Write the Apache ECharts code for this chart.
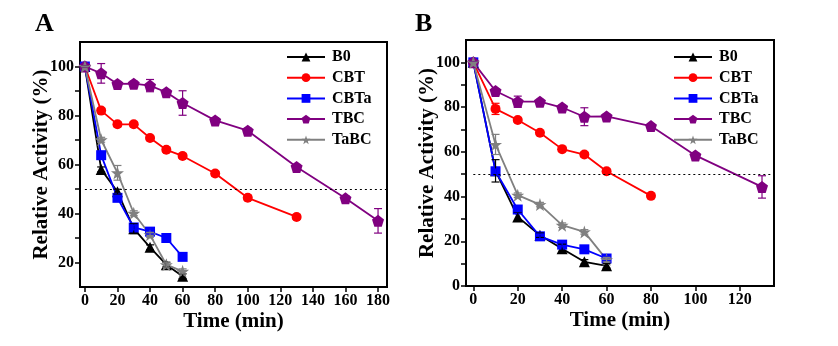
<!DOCTYPE html>
<html>
<head>
<meta charset="utf-8">
<script src="https://cdn.jsdelivr.net/npm/echarts@6/dist/echarts.min.js"></script>
<style>
  body { margin: 0; background: #fff; }
  #chart { width: 838px; height: 346px; }
</style>
</head>
<body>
<div id="chart"></div>
<script>
// ---- panel A ----
const timeA_short = [0, 10, 20, 30, 40, 50, 60];
const timeA_cbt = [0, 10, 20, 30, 40, 50, 60, 80, 100, 130];
const timeA_tbc = [0, 10, 20, 30, 40, 50, 60, 80, 100, 130, 160, 180];
const b0A = [100, 58, 48.9, 33.8, 26.2, 19.1, 14.4];
const b0A_err = [0, 1, 1, 2, 1, 1, 1];
const cbtA = [100, 82, 76.4, 76.4, 70.8, 66, 63.5, 56.3, 46.4, 38.6];
const cbtA_err = [0, 1, 1, 1, 1, 1, 1, 1, 1, 1];
const cbtaA = [100, 63.8, 46.4, 34.3, 32.6, 30, 22.3];
const cbtaA_err = [0, 1, 1, 1, 1, 1, 1];
const tbcA = [100, 97.2, 92.9, 93, 92.2, 89.5, 85.1, 78, 73.8, 59, 46.2, 37];
const tbcA_err = [0, 4, 1, 1, 2.5, 1, 5, 1, 1, 1, 1, 5];
const tabcA = [100, 70.1, 56.6, 40.1, 31.3, 19.1, 16.4];
const tabcA_err = [0, 1, 3, 1, 1, 1, 1];

// ---- panel B ----
const timeB_short = [0, 10, 20, 30, 40, 50, 60];
const timeB_cbt = [0, 10, 20, 30, 40, 50, 60, 80];
const timeB_tbc = [0, 10, 20, 30, 40, 50, 60, 80, 100, 130];
const b0B = [100, 51.5, 30.9, 22.7, 16.7, 10.8, 9];
const b0B_err = [0, 5, 2, 1, 2, 1, 1];
const cbtB = [100, 79.2, 74.2, 68.5, 61.2, 58.8, 51.3, 40.3];
const cbtB_err = [0, 2.5, 1, 1, 1, 1, 1, 1];
const cbtaB = [100, 51.3, 34.2, 22.2, 18.5, 16.4, 12.3];
const cbtaB_err = [0, 1, 1, 1, 1, 1, 1];
const tbcB = [100, 87.2, 82.4, 82.4, 79.8, 75.7, 75.8, 71.5, 58.4, 44.3];
const tbcB_err = [0, 1, 2.5, 1, 1, 4, 1, 1, 1, 5];
const tabcB = [100, 63.3, 40.6, 36.4, 27.2, 24.2, 11.8];
const tabcB_err = [0, 4.5, 1, 1, 1, 1, 1];

const ticksA_x = [0, 20, 40, 60, 80, 100, 120, 140, 160, 180];
const ticksB_x = [0, 20, 40, 60, 80, 100, 120];
const labelsA_y = [20, 40, 60, 80, 100];
const minorA_y = [20, 30, 40, 50, 60, 70, 80, 90, 100];
const labelsB_y = [0, 20, 40, 60, 80, 100];
const minorB_y = [0, 10, 20, 30, 40, 50, 60, 70, 80, 90, 100];
const names = ['B0', 'CBT', 'CBTa', 'TBC', 'TaBC'];

const FONT = '"Liberation Serif", "Times New Roman", serif';
const PENTA = 'path://M50,0 L97.6,34.5 L79.4,90.5 L20.6,90.5 L2.4,34.5 Z';
const STAR = 'path://M50,0 L61.8,35.1 L97.6,34.5 L69.1,56.7 L79.4,90.5 L50,70 L20.6,90.5 L30.9,56.7 L2.4,34.5 L38.2,35.1 Z';
const styles = {
  'B0': { color: '#000000', symbol: 'triangle', size: 11 },
  'CBT': { color: '#ff0000', symbol: 'circle', size: 10 },
  'CBTa': { color: '#0000ff', symbol: 'rect', size: 10 },
  'TBC': { color: '#800080', symbol: PENTA, size: 12 },
  'TaBC': { color: '#808080', symbol: STAR, size: 13 }
};

function zip(xs, ys) { return xs.map((x, i) => [x, ys[i]]); }

function lineSeries(name, xs, ys, gi) {
  const s = styles[name];
  return {
    name: name, type: 'line', xAxisIndex: gi, yAxisIndex: gi,
    data: zip(xs, ys),
    symbol: s.symbol, symbolSize: s.size,
    itemStyle: { color: s.color },
    lineStyle: { color: s.color, width: 1.8 },
    z: 3
  };
}

function errSeries(name, xs, ys, errs, gi) {
  const color = styles[name].color;
  return {
    type: 'custom', xAxisIndex: gi, yAxisIndex: gi, z: 4,
    data: xs.map((x, i) => [x, ys[i] - errs[i], ys[i] + errs[i]]),
    renderItem: function (params, api) {
      const lo = api.coord([api.value(0), api.value(1)]);
      const hi = api.coord([api.value(0), api.value(2)]);
      const w = 4;
      const st = { stroke: color, lineWidth: 1.2 };
      return {
        type: 'group', children: [
          { type: 'line', shape: { x1: lo[0], y1: lo[1], x2: hi[0], y2: hi[1] }, style: st },
          { type: 'line', shape: { x1: lo[0] - w, y1: lo[1], x2: lo[0] + w, y2: lo[1] }, style: st },
          { type: 'line', shape: { x1: hi[0] - w, y1: hi[1], x2: hi[0] + w, y2: hi[1] }, style: st }
        ]
      };
    },
    silent: true
  };
}

function halfLine(gi, xEnd) {
  return {
    type: 'line', xAxisIndex: gi, yAxisIndex: gi, data: [], symbol: 'none',
    markLine: {
      silent: true, symbol: 'none', label: { show: false },
      lineStyle: { color: '#000', type: [2, 3], width: 1 },
      data: [[{ coord: [0, 50] }, { coord: [xEnd, 50] }]]
    }
  };
}

const axisCommon = {
  axisLine: { show: true, onZero: false, lineStyle: { color: '#000', width: 2 } },
  axisTick: { show: true, inside: false, length: 5, lineStyle: { color: '#000', width: 1.5 } },
  splitLine: { show: false },
  nameMoveOverlap: false,
  nameTextStyle: { fontFamily: FONT, fontWeight: 'bold', fontSize: 21, color: '#000' }
};
const labelStyle = { fontFamily: FONT, fontWeight: 'bold', fontSize: 16, color: '#000' };

function xAxis(gi, min, max, ticks) {
  return Object.assign({}, axisCommon, {
    type: 'value', gridIndex: gi, min: min, max: max,
    name: 'Time (min)', nameLocation: 'middle', nameGap: 24,
    axisLabel: Object.assign({ customValues: ticks, margin: 6 }, labelStyle),
    axisTick: Object.assign({}, axisCommon.axisTick, { customValues: ticks })
  });
}
function yAxis(gi, min, max, labels, ticks) {
  return Object.assign({}, axisCommon, {
    type: 'value', gridIndex: gi, min: min, max: max,
    name: 'Relative Activity (%)', nameLocation: 'middle', nameGap: 28,
    axisLabel: Object.assign({ customValues: labels, margin: 6 }, labelStyle),
    axisTick: Object.assign({}, axisCommon.axisTick, { customValues: ticks })
  });
}

function legend(left) {
  return {
    data: names, orient: 'vertical', left: left, top: 44,
    itemWidth: 38, itemHeight: 11, itemGap: 4.7,
    textStyle: { fontFamily: FONT, fontWeight: 'bold', fontSize: 16, color: '#000', padding: [0, 0, 0, 2] },
    selectedMode: false
  };
}

const chart = echarts.init(document.getElementById('chart'));
chart.setOption({
  backgroundColor: '#fff',
  animation: false,
  title: [
    { text: 'A', left: 30, top: 6, textStyle: { fontFamily: FONT, fontWeight: 'bold', fontSize: 26, color: '#000' } },
    { text: 'B', left: 410, top: 6, textStyle: { fontFamily: FONT, fontWeight: 'bold', fontSize: 26, color: '#000' } }
  ],
  legend: [legend(281), legend(668)],
  grid: [
    { left: 80, top: 42, width: 307, height: 245, show: true, borderColor: '#000', borderWidth: 2, backgroundColor: 'transparent' },
    { left: 466, top: 40, width: 308, height: 246, show: true, borderColor: '#000', borderWidth: 2, backgroundColor: 'transparent' }
  ],
  xAxis: [xAxis(0, -3, 185.5, ticksA_x), xAxis(1, -3.3, 135.4, ticksB_x)],
  yAxis: [yAxis(0, 10, 110, labelsA_y, minorA_y), yAxis(1, 0, 110, labelsB_y, minorB_y)],
  series: [
    halfLine(0, 185.5),
    lineSeries('B0', timeA_short, b0A, 0),
    lineSeries('CBT', timeA_cbt, cbtA, 0),
    lineSeries('CBTa', timeA_short, cbtaA, 0),
    lineSeries('TBC', timeA_tbc, tbcA, 0),
    lineSeries('TaBC', timeA_short, tabcA, 0),
    errSeries('B0', timeA_short, b0A, b0A_err, 0),
    errSeries('CBT', timeA_cbt, cbtA, cbtA_err, 0),
    errSeries('CBTa', timeA_short, cbtaA, cbtaA_err, 0),
    errSeries('TBC', timeA_tbc, tbcA, tbcA_err, 0),
    errSeries('TaBC', timeA_short, tabcA, tabcA_err, 0),
    halfLine(1, 135.4),
    lineSeries('B0', timeB_short, b0B, 1),
    lineSeries('CBT', timeB_cbt, cbtB, 1),
    lineSeries('CBTa', timeB_short, cbtaB, 1),
    lineSeries('TBC', timeB_tbc, tbcB, 1),
    lineSeries('TaBC', timeB_short, tabcB, 1),
    errSeries('B0', timeB_short, b0B, b0B_err, 1),
    errSeries('CBT', timeB_cbt, cbtB, cbtB_err, 1),
    errSeries('CBTa', timeB_short, cbtaB, cbtaB_err, 1),
    errSeries('TBC', timeB_tbc, tbcB, tbcB_err, 1),
    errSeries('TaBC', timeB_short, tabcB, tabcB_err, 1)
  ]
});
</script>
</body>
</html>
